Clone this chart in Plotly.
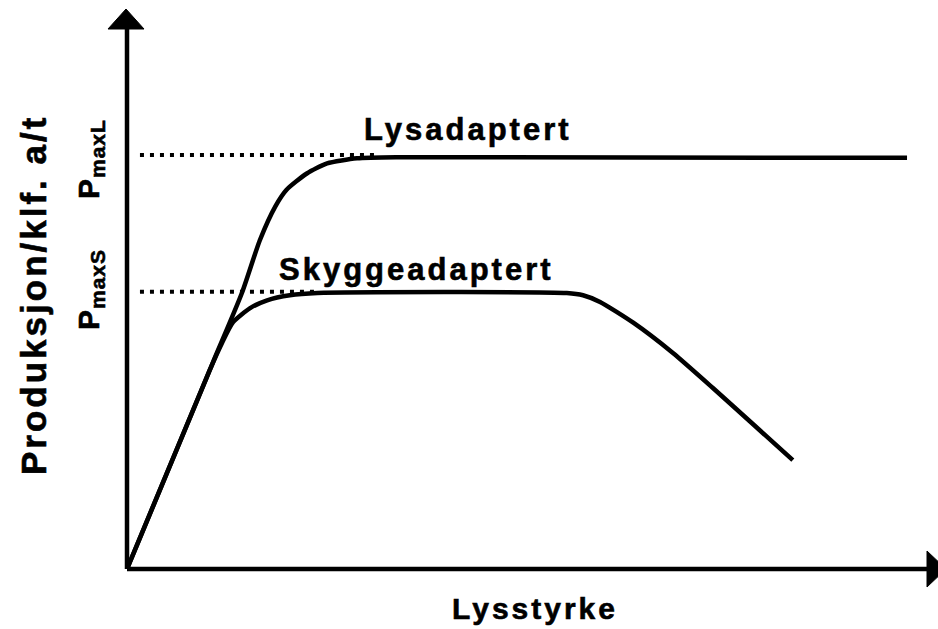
import plotly.graph_objects as go

# ---- data (axis units 0..100) ----
lys_x = [0, 10.6, 14.16, 16.4, 18.3, 19.7, 22.2, 24.7, 28.4, 33.7, 96.3]
lys_y = [0, 36.8, 49.1, 58.6, 64.6, 67.6, 70.5, 72.3, 73.2, 73.4, 73.3]

sky_x = [0, 10.2, 11.7, 13.1, 15.2, 17.3, 20.1, 23.5, 54.3, 56.3, 58.4, 62.5, 67.4, 72.3, 77.3, 82.2]
sky_y = [0, 35.4, 40.2, 44.0, 46.5, 47.9, 48.8, 49.2, 49.2, 48.8, 47.6, 43.9, 38.5, 32.3, 25.8, 19.4]

pmax_levels = [73.8, 49.4]          # P_maxL, P_maxS
pmax_ends = [30.6, 23.5]            # where the dotted guides stop
curve_labels = ["Lysadaptert", "Skyggeadaptert"]
x_title = "Lysstyrke"
y_title = "Produksjon/klf. a/t"
pmax_labels = ["P<sub>maxL</sub>", "P<sub>maxS</sub>"]

FONT = "Liberation Sans, Arial, Helvetica, sans-serif"

# plot area geometry in pixels
L, R, T, B = 127, 1, 8, 60
W, H = 938, 629
PW, PH = W - L - R, H - T - B


def paper(px, py):
    return (px - L) / PW, (H - B - py) / PH


def spaced(text, sp):
    return (f'<span style="letter-spacing:{sp}px;stroke:black;stroke-width:0.6px">'
            f'{text}</span>')


fig = go.Figure()

# dotted guide lines
for lvl, end in zip(pmax_levels, pmax_ends):
    fig.add_trace(go.Scatter(
        x=[1.6, end], y=[lvl, lvl], mode="lines",
        line=dict(color="black", width=4, dash="4px,6px"),
        hoverinfo="skip", showlegend=False))

fig.add_trace(go.Scatter(x=lys_x, y=lys_y, mode="lines",
                         line=dict(color="black", width=4.5, shape="spline", smoothing=0.6),
                         showlegend=False))
fig.add_trace(go.Scatter(x=sky_x, y=sky_y, mode="lines",
                         line=dict(color="black", width=4.5, shape="spline", smoothing=0.6),
                         showlegend=False))

shapes = []
# axes lines
x0, y0 = paper(127, 569)
x1, y1 = paper(127, 26)
shapes.append(dict(type="line", xref="paper", yref="paper", x0=x0, y0=y0, x1=x1, y1=y1,
                   line=dict(color="black", width=4.5)))
x2, y2 = paper(930, 569)
shapes.append(dict(type="line", xref="paper", yref="paper", x0=x0, y0=y0, x1=x2, y1=y2,
                   line=dict(color="black", width=4.5)))


def tri(pts):
    p = [paper(*q) for q in pts]
    return "M {} {} L {} {} L {} {} Z".format(p[0][0], p[0][1], p[1][0], p[1][1], p[2][0], p[2][1])


shapes.append(dict(type="path", xref="paper", yref="paper",
                   path=tri([(126, 9), (108, 29), (144, 29)]),
                   fillcolor="black", line=dict(color="black", width=1)))
shapes.append(dict(type="path", xref="paper", yref="paper",
                   path=tri([(946, 569), (927, 551), (927, 587)]),
                   fillcolor="black", line=dict(color="black", width=1)))

annotations = []
# curve labels
annotations.append(dict(x=29.0, y=78.3, xref="x", yref="y", xanchor="left", yanchor="middle",
                        text="<b>" + spaced(curve_labels[0], 3) + "</b>", showarrow=False,
                        font=dict(family=FONT, size=31, color="black")))
annotations.append(dict(x=18.5, y=53.3, xref="x", yref="y", xanchor="left", yanchor="middle",
                        text="<b>" + spaced(curve_labels[1], 3) + "</b>", showarrow=False,
                        font=dict(family=FONT, size=31, color="black")))

# axis titles
ax, ay = paper(535, 608)
annotations.append(dict(x=ax, y=ay, xref="paper", yref="paper", xanchor="center", yanchor="middle",
                        text="<b>" + spaced(x_title, 3) + "</b>", showarrow=False,
                        font=dict(family=FONT, size=30, color="black")))
bx, by = paper(33, 295)
annotations.append(dict(x=bx, y=by, xref="paper", yref="paper", xanchor="center", yanchor="middle",
                        text="<b>" + spaced(y_title, 3) + "</b>", showarrow=False, textangle=-90,
                        font=dict(family=FONT, size=35, color="black")))

# P_max labels
for lbl, py in zip(pmax_labels, [159, 290]):
    cx, cy = paper(90, py)
    annotations.append(dict(x=cx, y=cy, xref="paper", yref="paper", xanchor="center", yanchor="middle",
                            text="<b>" + spaced(lbl, 1) + "</b>", showarrow=False, textangle=-90,
                            font=dict(family=FONT, size=30, color="black")))

fig.update_layout(
    width=W, height=H,
    margin=dict(l=L, r=R, t=T, b=B, pad=0),
    paper_bgcolor="white", plot_bgcolor="white",
    xaxis=dict(range=[0, 100], visible=False, fixedrange=True),
    yaxis=dict(range=[0, 100], visible=False, fixedrange=True),
    shapes=shapes, annotations=annotations,
    showlegend=False,
)

fig.write_html("out.html", config={"displayModeBar": False})

# remove the default page margin so the figure sits at the window's top-left corner
with open("out.html", "r", encoding="utf-8") as f:
    html = f.read()
html = html.replace("<head>", "<head><style>html,body{margin:0;padding:0;overflow:hidden;}</style>", 1)
with open("out.html", "w", encoding="utf-8") as f:
    f.write(html)
